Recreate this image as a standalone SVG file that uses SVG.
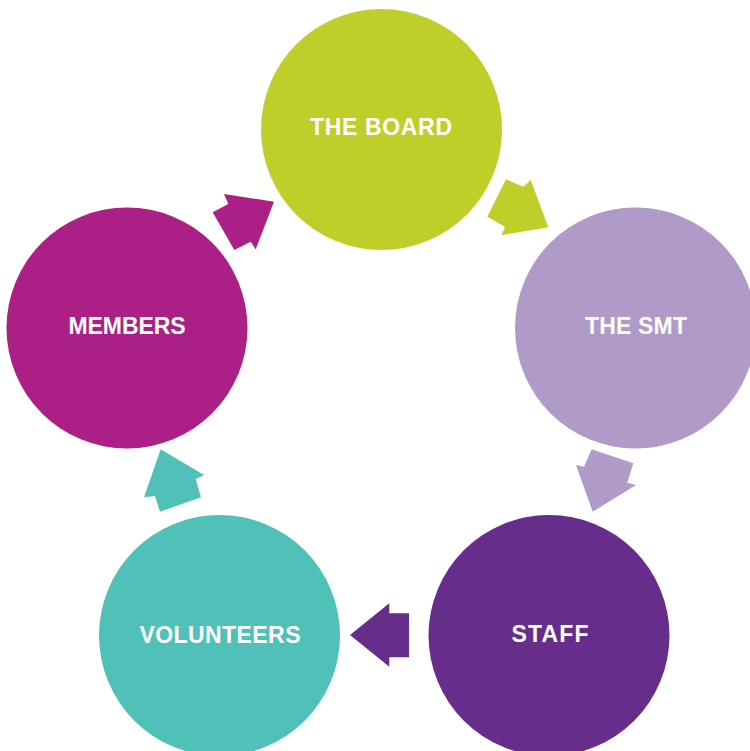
<svg xmlns="http://www.w3.org/2000/svg" width="750" height="751" viewBox="0 0 750 751">
<style>
.lbl{font-family:"Liberation Sans",Arial,sans-serif;font-weight:bold;font-size:23px;fill:#ffffff;text-anchor:middle}
</style>
<rect width="750" height="751" fill="#ffffff"/>
<g id="board"><circle cx="381.5" cy="129.5" r="120.5" fill="#bfce29"/><text class="lbl" x="381" y="135" textLength="142">THE BOARD</text></g>
<g id="smt"><circle cx="635.5" cy="328" r="120.5" fill="#b09ac8"/><text class="lbl" x="636" y="334" textLength="102">THE SMT</text></g>
<g id="staff"><circle cx="549" cy="635.5" r="120.5" fill="#662d8b"/><text class="lbl" x="550" y="641.5" textLength="77">STAFF</text></g>
<g id="volunteers"><circle cx="219.5" cy="635.5" r="120.5" fill="#50c1b9"/><text class="lbl" x="220" y="643" textLength="161">VOLUNTEERS</text></g>
<g id="members"><circle cx="127" cy="328" r="120.5" fill="#ab1f87"/><text class="lbl" x="127" y="334" textLength="117">MEMBERS</text></g>
<g id="connectors">
<polygon fill="#ab1f87" points="274,201.7 224,194 228.3,204 212.7,212.3 234.3,250 250.7,241.7 255.7,249.3"/>
<polygon fill="#bfce29" points="506,179.3 523.3,186.7 530.7,180 548.3,227.3 501.7,235 505,226.7 487.3,216.7"/>
<polygon fill="#b09ac8" points="591.7,449.3 633.3,463.3 627.3,482.7 636,485 592.7,511.7 576,465 584,466.7"/>
<polygon fill="#662d8b" points="350,635 389.3,603.3 389.3,613.3 409,613.3 409,657.3 389.3,657.3 389.3,666.7"/>
<polygon fill="#50c1b9" points="160.7,449.3 204,475 195.7,479.3 201,497.3 160,511.7 155,496 144,497.3"/>
</g>
</svg>
